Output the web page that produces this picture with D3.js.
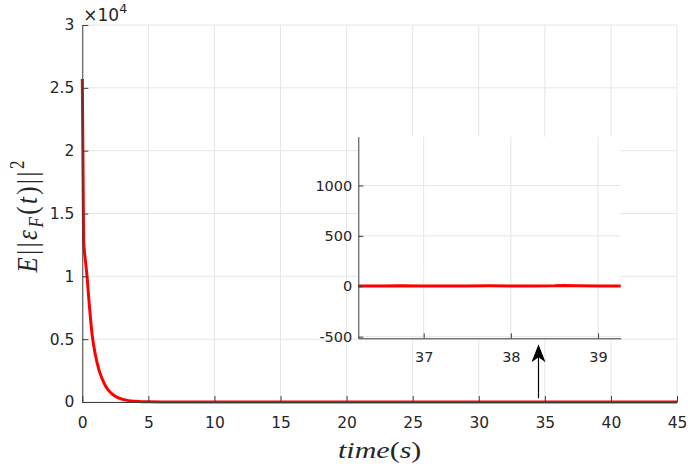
<!DOCTYPE html>
<html>
<head>
<meta charset="utf-8">
<script src="https://cdn.jsdelivr.net/npm/d3@7"></script>
<style>
	body { margin: 0; background: #fff; }
	text { fill: #262626; }
</style>
</head>
<body>
<div id="chart"></div>
<script>
// main curve (time in s, error value)
const mainTime = [0, 0.1, 0.2, 0.35, 0.5, 0.75, 1, 1.25, 1.5, 1.75, 2, 2.5, 3, 3.5, 4, 4.5, 5, 6, 8, 10, 15, 20, 25, 30, 35, 40, 45];
const mainError = [25700, 12800, 11600, 10100, 8100, 5300, 3700, 2600, 1850, 1300, 900, 450, 230, 110, 55, 25, 12, 6, 4, 3, 4, 3, 4, 3, 4, 3, 4];

// zoomed inset
const insetTime = [36.25, 36.5, 36.75, 37, 37.25, 37.5, 37.75, 38, 38.25, 38.5, 38.6, 38.75, 39, 39.26];
const insetError = [4, 3, 5, 2, 4, 3, 5, 3, 4, 5, 8, 5, 3, 4];

const xTicks = [0, 5, 10, 15, 20, 25, 30, 35, 40, 45];
const yTicks = [0, 5000, 10000, 15000, 20000, 25000, 30000];
const insetXTicks = [37, 38, 39];
const insetYTicks = [-500, 0, 500, 1000];

// arrow pointing at the zoomed region
const arrowX = 34.52;
const arrowY = [300, 4600];

const width = 688;
const height = 467;
const margin = ({ top: 25, right: 11, bottom: 65, left: 82.3 });
const inset = ({ left: 358.3, right: 620.7, top: 136.7, bottom: 338.3 });

const gridColor = "#e6e6e6";
const axisColor = "#3c3c3c";
const tickFont = "DejaVu Sans, sans-serif";
const mathFont = "Liberation Serif, serif";

const x = d3.scaleLinear()
	.domain([0, 45])
	.range([margin.left, width - margin.right]);

const y = d3.scaleLinear()
	.domain([0, 30000])
	.range([height - margin.bottom, margin.top]);

const xi = d3.scaleLinear()
	.domain([36.25, 39.26])
	.range([inset.left, inset.right]);

const yi = d3.scaleLinear()
	.domain([-516, 1484])
	.range([inset.bottom, inset.top]);

const svg = d3.select("#chart")
	.append("svg")
	.attr("width", width)
	.attr("height", height)
	.attr("viewBox", [0, 0, width, height]);

svg.append("rect")
	.attr("width", width)
	.attr("height", height)
	.attr("fill", "#fff");

// main grid
svg.append("g")
	.attr("stroke", gridColor)
	.selectAll("line")
	.data(xTicks)
	.join("line")
	.attr("x1", d => x(d)).attr("x2", d => x(d))
	.attr("y1", y(0)).attr("y2", y(30000));

svg.append("g")
	.attr("stroke", gridColor)
	.selectAll("line")
	.data(yTicks)
	.join("line")
	.attr("y1", d => y(d)).attr("y2", d => y(d))
	.attr("x1", x(0)).attr("x2", x(45));

const styleAxis = (g, size) => {
	g.select(".domain").attr("stroke", axisColor);
	g.selectAll(".tick line").attr("stroke", axisColor);
	g.selectAll(".tick text")
		.attr("fill", "#262626")
		.attr("font-family", tickFont)
		.attr("font-size", size);
};

const xAxis = g => g
	.attr("transform", `translate(0,${y(0)})`)
	.call(d3.axisBottom(x).tickValues(xTicks).tickSize(-6).tickPadding(15).tickSizeOuter(0).tickFormat(d => String(d)))
	.call(g => styleAxis(g, 15.5));

const yAxis = g => g
	.attr("transform", `translate(${x(0)},0)`)
	.call(d3.axisLeft(y).tickValues(yTicks).tickSize(-6).tickPadding(8).tickSizeOuter(0).tickFormat(d => String(d / 1e4)))
	.call(g => styleAxis(g, 15.5));

const line = d3.line()
	.x(d => x(d[0]))
	.y(d => y(d[1]))
	.curve(d3.curveMonotoneX);

svg.append("path")
	.datum(d3.zip(mainTime, mainError))
	.attr("fill", "none")
	.attr("stroke", "#ff0000")
	.attr("stroke-width", 3)
	.attr("stroke-linejoin", "round")
	.attr("d", line);

svg.append("g").call(xAxis);
svg.append("g").call(yAxis);

// exponent label
const expo = svg.append("text")
	.attr("x", x(0) + 1)
	.attr("y", 21)
	.attr("font-family", tickFont)
	.attr("font-size", 17);
expo.append("tspan").text("\u00d710");
expo.append("tspan").attr("font-size", 12.5).attr("dy", -8).text("4");

// axis titles (the picture is stretched sideways, so the text is too)
const xt = svg.append("text")
	.attr("transform", `translate(${(x(0) + x(45)) / 2},458) scale(1.25,1)`)
	.attr("text-anchor", "middle")
	.attr("font-family", mathFont)
	.attr("font-size", 24);
xt.append("tspan").attr("font-style", "italic").text("time");
xt.append("tspan").text("(");
xt.append("tspan").attr("font-style", "italic").text("s");
xt.append("tspan").text(")");

const yt = svg.append("text")
	.attr("transform", `translate(37,${(y(0) + y(30000)) / 2 + 3}) rotate(-90) scale(1,1.2)`)
	.attr("text-anchor", "middle")
	.attr("font-family", mathFont)
	.attr("font-size", 25)
	.attr("textLength", 112)
	.attr("lengthAdjust", "spacing");
yt.append("tspan").attr("font-style", "italic").text("E");
yt.append("tspan").text("||");
yt.append("tspan").attr("font-style", "italic").text("\u03b5");
yt.append("tspan").attr("font-style", "italic").attr("font-size", 17).attr("dy", 5).text("F");
yt.append("tspan").attr("dy", -5).text("(");
yt.append("tspan").attr("font-style", "italic").text("t");
yt.append("tspan").text(")||");
yt.append("tspan").attr("font-size", 17).attr("dy", -11).text("2");

// inset
svg.append("rect")
	.attr("x", inset.left)
	.attr("y", inset.top)
	.attr("width", inset.right - inset.left)
	.attr("height", inset.bottom - inset.top)
	.attr("fill", "#fff");

svg.append("g")
	.attr("stroke", gridColor)
	.selectAll("line")
	.data(insetXTicks)
	.join("line")
	.attr("x1", d => xi(d)).attr("x2", d => xi(d))
	.attr("y1", inset.bottom).attr("y2", inset.top);

svg.append("g")
	.attr("stroke", gridColor)
	.selectAll("line")
	.data(insetYTicks)
	.join("line")
	.attr("y1", d => yi(d)).attr("y2", d => yi(d))
	.attr("x1", inset.left).attr("x2", inset.right);

const insetLine = d3.line()
	.x(d => xi(d[0]))
	.y(d => yi(d[1]));

svg.append("path")
	.datum(d3.zip(insetTime, insetError))
	.attr("fill", "none")
	.attr("stroke", "#ff0000")
	.attr("stroke-width", 3)
	.attr("d", insetLine);

svg.append("g")
	.attr("transform", `translate(0,${inset.bottom})`)
	.call(d3.axisBottom(xi).tickValues(insetXTicks).tickSize(-5).tickPadding(13).tickSizeOuter(0).tickFormat(d => String(d)))
	.call(g => styleAxis(g, 14.5));

svg.append("g")
	.attr("transform", `translate(${inset.left},0)`)
	.call(d3.axisLeft(yi).tickValues(insetYTicks).tickSize(-5).tickPadding(6).tickSizeOuter(0).tickFormat(d => String(d)))
	.call(g => styleAxis(g, 14.5));

// arrow
const ax = x(arrowX);
const ay0 = y(arrowY[0]);
const ay1 = y(arrowY[1]);
svg.append("line")
	.attr("x1", ax).attr("x2", ax)
	.attr("y1", ay0).attr("y2", ay1 + 12)
	.attr("stroke", "#000")
	.attr("stroke-width", 1.2);
svg.append("path")
	.attr("d", `M${ax},${ay1} L${ax - 7},${ay1 + 18} L${ax},${ay1 + 13} L${ax + 7},${ay1 + 18} Z`)
	.attr("fill", "#000");
</script>
</body>
</html>
